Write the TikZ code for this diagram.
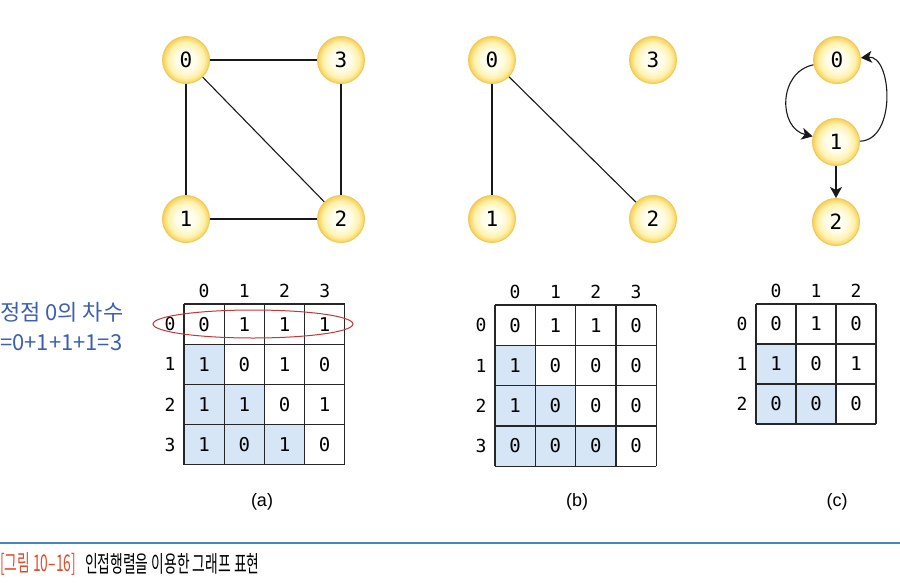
\documentclass[tikz,border=0pt]{standalone}
\usepackage{fontspec}
\setmainfont{Liberation Sans}
\newfontfamily\krfont{Noto Sans CJK KR}
\newfontfamily\krcond[FakeStretch=0.6]{Noto Sans CJK KR}
\newfontfamily\monofont{DejaVu Sans Mono}
\usetikzlibrary{arrows.meta}

\definecolor{nodeedge}{RGB}{240,202,95}
\definecolor{nodein}{RGB}{255,254,236}
\definecolor{nodemid}{RGB}{254,242,175}
\definecolor{nodeout}{RGB}{246,208,85}
\definecolor{cellblue}{RGB}{214,230,246}
\definecolor{annblue}{RGB}{60,95,180}
\definecolor{ellred}{RGB}{195,55,55}
\definecolor{capred}{RGB}{225,75,40}
\definecolor{capline}{RGB}{70,135,195}

\pgfdeclareradialshading{nodeglow}{\pgfpoint{0bp}{0bp}}{%
  color(0bp)=(nodein); color(10bp)=(nodein); color(19bp)=(nodemid);
  color(25bp)=(nodeout); color(50bp)=(nodeout)}

\tikzset{
  vtx/.style={circle, minimum size=47pt, inner sep=0pt, draw=nodeedge, line width=1pt,
    shade, shading=nodeglow, font=\monofont\fontsize{21}{24}\selectfont},
  edge/.style={draw=black!90, line width=1.1pt},
  arc/.style={draw=black!90, line width=1.1pt, -{Stealth[length=11pt,width=12pt,inset=3pt]}},
  cell/.style={inner sep=0pt, font=\monofont\fontsize{19}{22}\selectfont},
  hdr/.style={inner sep=0pt, font=\monofont\fontsize{18}{21}\selectfont},
  gridline/.style={draw=black!85, line width=1.2pt},
  sublabel/.style={inner sep=0pt, font=\fontsize{18}{21}\selectfont},
  ann/.style={inner sep=0pt, anchor=west, text=annblue, font=\krfont\fontsize{22}{26}\selectfont},
  capfont/.style={inner sep=0pt, anchor=west, font=\krcond\fontsize{23}{27}\selectfont},
}

\newcommand\drawadj[6]{%
  \foreach \row [count=\r from 0] in {#6} {
    \foreach \v [count=\c from 0] in \row {
      \ifnum\c<\r\relax
        \fill[cellblue] (#2+\c*#4, #3+\r*#4) rectangle ++(#4,#4);
      \fi
      \node[cell] (#1-\r-\c) at (#2+\c*#4+#4/2, #3+\r*#4+#4/2) {\v};
    }
  }
  \foreach \i in {0,...,#5} {
    \draw[gridline] (#2+\i*#4, #3) -- ++(0, #5*#4);
    \draw[gridline] (#2, #3+\i*#4) -- ++(#5*#4, 0);
  }
  \pgfmathtruncatemacro\nmax{#5-1}
  \foreach \i in {0,...,\nmax} {
    \node[hdr] (#1-col-\i) at (#2+\i*#4+#4/2, #3-13) {\i};
    \node[hdr] (#1-row-\i) at (#2-14, #3+\i*#4+#4/2) {\i};
  }
}

\begin{document}
\begin{tikzpicture}[x=1pt,y=-1pt]
\useasboundingbox (0,0) rectangle (900,582);

% ---------- graph (a)
\node[vtx] (a0) at (186,60) {0};
\node[vtx] (a3) at (341,60) {3};
\node[vtx] (a1) at (186,219) {1};
\node[vtx] (a2) at (341,219) {2};
\draw[edge] (a0) -- (a3);
\draw[edge] (a0) -- (a1);
\draw[edge] (a0) -- (a2);
\draw[edge] (a1) -- (a2);
\draw[edge] (a3) -- (a2);

% ---------- graph (b)
\node[vtx] (b0) at (492,60) {0};
\node[vtx] (b3) at (653,60) {3};
\node[vtx] (b1) at (492,219) {1};
\node[vtx] (b2) at (653,219) {2};
\draw[edge] (b0) -- (b1);
\draw[edge] (b0) -- (b2);

% ---------- graph (c)
\node[vtx] (c0) at (837,60) {0};
\node[vtx] (c1) at (836,142) {1};
\node[vtx] (c2) at (836,222) {2};
\draw[arc] (c0) .. controls (778,72) and (778,128) .. (c1);
\draw[arc] (c1) .. controls (897,140) and (892,55) .. (c0);
\draw[arc] (c1) -- (c2);

% ---------- matrices
\drawadj{ma}{184}{304}{40.2}{4}{{0,1,1,1},{1,0,1,0},{1,1,0,1},{1,0,1,0}}
\drawadj{mb}{495}{305}{40.3}{4}{{0,1,1,0},{1,0,0,0},{1,0,0,0},{0,0,0,0}}
\drawadj{mc}{756}{304}{40}{3}{{0,1,0},{1,0,1},{0,0,0}}

% red ellipse around row 0 of (a)
\draw[ellred, line width=1pt] (253,324) ellipse [x radius=100, y radius=14];

% annotation
\node[ann] (deg1) at (0,312) {정점 0의 차수};
\node[ann] (deg2) at (0,342.5) {=0+1+1+1=3};

% sub labels
\node[sublabel] (la) at (262,502) {(a)};
\node[sublabel] (lb) at (577,502) {(b)};
\node[sublabel] (lc) at (837,502) {(c)};

% caption
\draw[capline, line width=1.3pt] (0,543) -- (900,543);
\node[capfont, text=capred] (capnum) at (0,564) {[그림 10–16]};
\node[capfont] (captext) at (85,564) {인접행렬을 이용한 그래프 표현};
\end{tikzpicture}
\end{document}
